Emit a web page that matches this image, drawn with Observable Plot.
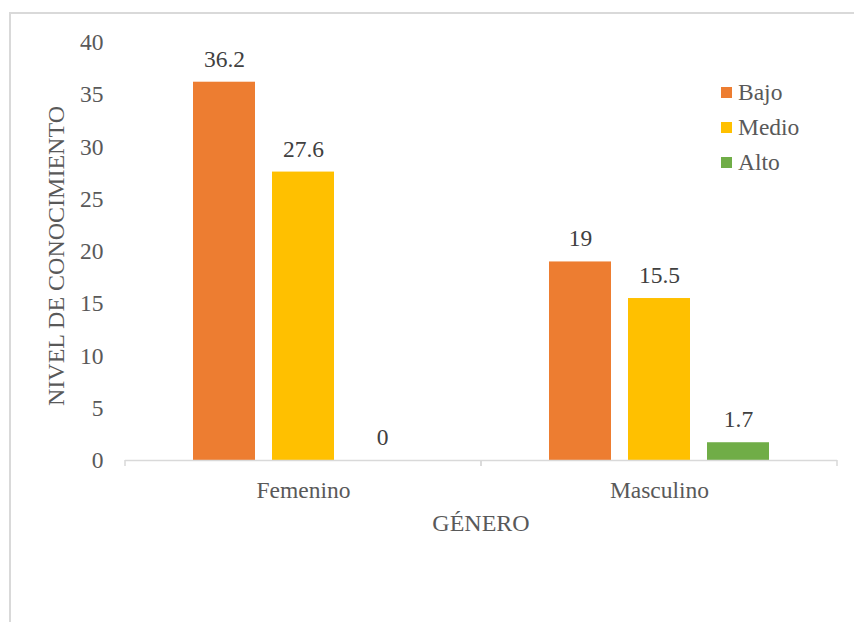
<!DOCTYPE html>
<html>
<head>
<meta charset="utf-8">
<script src="https://cdn.jsdelivr.net/npm/d3@7"></script>
<script src="https://cdn.jsdelivr.net/npm/@observablehq/plot@0.6"></script>
<style>
  html, body { margin: 0; padding: 0; background: #ffffff; overflow: hidden; }
  #wrap { position: relative; width: 854px; height: 622px; font-family: "Liberation Serif", "DejaVu Serif", serif; color: #595959; }
  #chart { position: absolute; left: 0; top: 0; }
  #chart svg, #chart svg text { font-family: "Liberation Serif", "DejaVu Serif", serif !important; }
  #border { position: absolute; left: 9px; top: 12px; width: 900px; height: 700px; border-left: 2px solid #d9d9d9; border-top: 2px solid #d9d9d9; pointer-events: none; }
  .title { position: absolute; font-size: 24px; line-height: 1; white-space: nowrap; font-family: "Liberation Serif", "DejaVu Serif", serif; }
  #xtitle { left: 481px; top: 511px; transform: translateX(-50%); }
  #ytitle { left: 56px; top: 256px; transform: translate(-50%, -50%) rotate(-90deg); }
  #legend { position: absolute; left: 721px; top: 75px; font-size: 23.5px; font-family: "Liberation Serif", "DejaVu Serif", serif; }
  .row { display: flex; align-items: center; height: 35px; }
  .sw { width: 11px; height: 11px; margin-right: 6px; }
</style>
</head>
<body>
<div id="wrap">
  <div id="chart"></div>
  <div id="xtitle" class="title"></div>
  <div id="ytitle" class="title"></div>
  <div id="legend"></div>
  <div id="border"></div>
</div>
<script>
const genders = ["Femenino", "Masculino"];
const levels = ["Bajo", "Medio", "Alto"];
const bajo = [36.2, 19];
const medio = [27.6, 15.5];
const alto = [0, 1.7];
const yTicks = [0, 5, 10, 15, 20, 25, 30, 35, 40];
const colors = ["#ED7D31", "#FFC000", "#70AD47"];
const xTitle = "GÉNERO";
const yTitle = "NIVEL DE CONOCIMIENTO";

const series = [bajo, medio, alto];
const rows = genders.flatMap((g, i) => levels.map((l, j) => ({genero: g, nivel: l, valor: series[j][i]})));

const boundaryTicks = (index, scales, values, dimensions) => {
  const ns = "http://www.w3.org/2000/svg";
  const g = document.createElementNS(ns, "g");
  let x0, x1;
  if (scales.x && typeof scales.x.range === "function") {
    [x0, x1] = scales.x.range();
  } else {
    x0 = dimensions.marginLeft; x1 = dimensions.width - dimensions.marginRight;
  }
  const y0 = scales.y(0);
  for (const x of [x0, x1]) {
    const l = document.createElementNS(ns, "line");
    l.setAttribute("x1", x); l.setAttribute("x2", x);
    l.setAttribute("y1", y0); l.setAttribute("y2", y0 + 6);
    l.setAttribute("stroke", "#d9d9d9");
    l.setAttribute("stroke-width", 1.5);
    g.appendChild(l);
  }
  return g;
};

const serif = "'Liberation Serif', 'DejaVu Serif', serif";

const chart = Plot.plot({
  width: 854,
  height: 622,
  marginLeft: 125,
  marginRight: 17,
  marginTop: 42,
  marginBottom: 162,
  style: `background: transparent; font-family: ${serif}; font-size: 23.5px; color: #595959; overflow: visible;`,
  fx: {domain: genders, padding: 0, axis: "bottom", label: null, tickSize: 0, tickPadding: 21},
  x: {domain: levels, paddingInner: 0.215, paddingOuter: 0.86, axis: null},
  y: {domain: [0, 40], ticks: yTicks, tickSize: 0, tickPadding: 22, label: null},
  color: {domain: levels, range: colors},
  marks: [
    Plot.barY(rows, {fx: "genero", x: "nivel", y: "valor", fill: "nivel"}),
    Plot.ruleY([0], {stroke: "#d9d9d9", strokeWidth: 1.5}),
    boundaryTicks,
    Plot.text(rows, {fx: "genero", x: "nivel", y: "valor", text: d => String(d.valor), dy: -23, fill: "#404040", fontSize: 23.5, fontFamily: serif})
  ]
});
document.getElementById("chart").appendChild(chart);

document.getElementById("xtitle").textContent = xTitle;
document.getElementById("ytitle").textContent = yTitle;

const legend = document.getElementById("legend");
levels.forEach((l, i) => {
  const row = document.createElement("div");
  row.className = "row";
  const sw = document.createElement("div");
  sw.className = "sw";
  sw.style.background = colors[i];
  const t = document.createElement("span");
  t.textContent = l;
  row.appendChild(sw); row.appendChild(t);
  legend.appendChild(row);
});
</script>
</body>
</html>
